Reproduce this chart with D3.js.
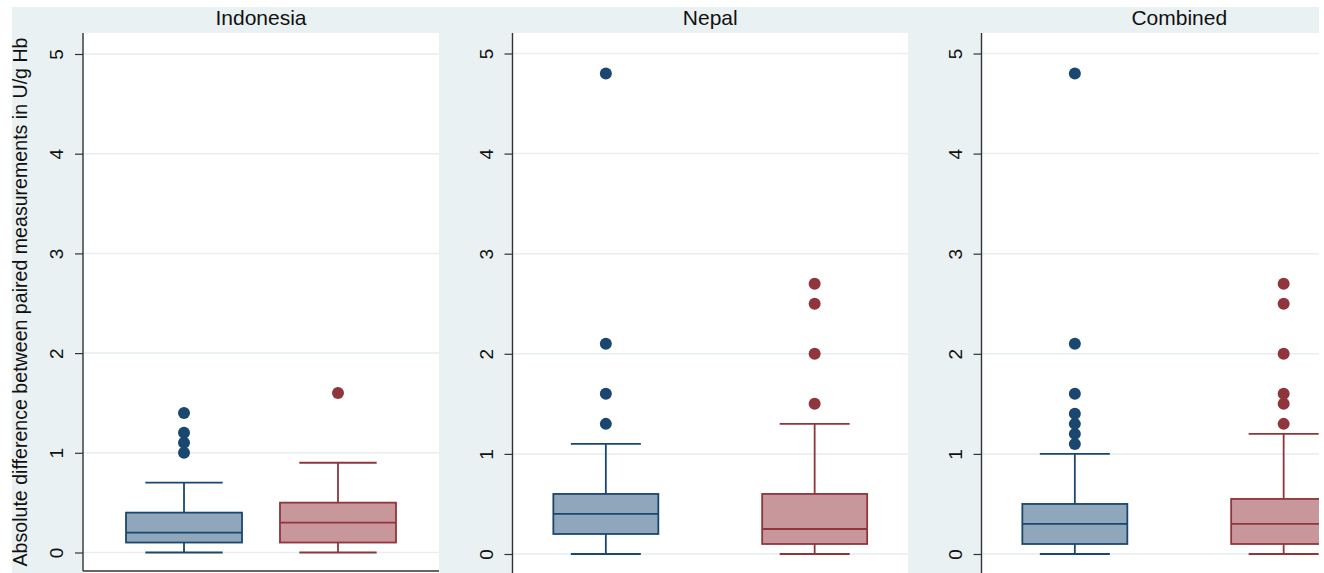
<!DOCTYPE html>
<html>
<head>
<meta charset="utf-8">
<script src="https://cdn.jsdelivr.net/npm/d3@7"></script>
<style>
  body { margin: 0; background: #fff; }
  svg { display: block; font-family: "Liberation Sans", Arial, sans-serif; }
</style>
</head>
<body>
<svg width="1324" height="573"></svg>
<script>
// panel titles and the two groups in each panel (blue, red)
var panelNames = ["Indonesia", "Nepal", "Combined"];
var groupNames = ["A", "B"];
var yTicks = [0, 1, 2, 3, 4, 5];
var yTitle = "Absolute difference between paired measurements in U/g Hb";

// box statistics, per panel: [blue, red]
var whiskerLow = [[0, 0], [0, 0], [0, 0]];
var q1 = [[0.1, 0.1], [0.2, 0.1], [0.1, 0.1]];
var median = [[0.2, 0.3], [0.4, 0.25], [0.3, 0.3]];
var q3 = [[0.4, 0.5], [0.6, 0.6], [0.5, 0.55]];
var whiskerHigh = [[0.7, 0.9], [1.1, 1.3], [1.0, 1.2]];
var outliers = [
    [[1.0, 1.1, 1.2, 1.4], [1.6]],
    [[1.3, 1.6, 2.1, 4.8], [1.5, 2.0, 2.5, 2.7]],
    [[1.1, 1.2, 1.3, 1.4, 1.6, 2.1, 4.8], [1.3, 1.5, 1.6, 2.0, 2.5, 2.7]]
];

var strokeColors = ["#1a476f", "#90353b"];
var fillColors = ["#8fa6bb", "#c8979b"];

// layout of each panel (pixels)
var layout = [
    {left: 83, right: 439, width: 356, bottom: 571, zero: 552.5, five: 54, pad: 0.656, boxW: 116},
    {left: 512.5, right: 908, width: 395.5, bottom: 576, zero: 554, five: 53.5, pad: 0.447, boxW: 105},
    {left: 981.5, right: 1319, width: 395.5, bottom: 576, zero: 554, five: 53.5, pad: 0.447, boxW: 105}
];
var plotTop = 33;

var svg = d3.select("svg");

// outer light background with title strip
svg.append("rect")
    .attr("x", 12).attr("y", 7)
    .attr("width", 1319 - 12).attr("height", 573)
    .attr("fill", "#eaf1f3");

svg.append("text")
    .attr("transform", "translate(27," + (plotTop + 571) / 2 + ") rotate(-90)")
    .attr("text-anchor", "middle")
    .style("font-size", "19.6px")
    .style("fill", "#111")
    .text(yTitle);

panelNames.forEach(function(name, p) {
    var L = layout[p];

    var x = d3.scalePoint()
        .domain(groupNames)
        .range([L.left, L.left + L.width])
        .padding(L.pad);

    var y = d3.scaleLinear()
        .domain([0, 5])
        .range([L.zero, L.five]);

    var g = svg.append("g").attr("class", "panel");

    g.append("clipPath")
        .attr("id", "clip" + p)
      .append("rect")
        .attr("x", L.left).attr("y", plotTop)
        .attr("width", L.right - L.left).attr("height", L.bottom - plotTop);

    g.append("rect")
        .attr("x", L.left).attr("y", plotTop)
        .attr("width", L.right - L.left).attr("height", 600)
        .attr("fill", "#fff");

    // title
    g.append("text")
        .attr("x", L.left + L.width / 2)
        .attr("y", 25)
        .attr("text-anchor", "middle")
        .style("font-size", "21px")
        .style("fill", "#111")
        .text(name);

    // grid
    g.append("g")
        .selectAll("line")
        .data(yTicks)
        .enter().append("line")
            .attr("x1", L.left).attr("x2", L.right)
            .attr("y1", function(d) { return y(d); })
            .attr("y2", function(d) { return y(d); })
            .attr("stroke", "#e6eef1")
            .attr("stroke-width", 1.5);

    // y axis
    var axis = g.append("g")
        .attr("transform", "translate(" + L.left + ",0)")
        .call(d3.axisLeft(y).tickValues(yTicks).tickFormat(d3.format("d")).tickSize(8).tickPadding(0));
    axis.select(".domain").remove();
    axis.selectAll(".tick line").attr("stroke", "#333").attr("stroke-width", 1.2);
    axis.selectAll(".tick text")
        .attr("x", null).attr("dy", null)
        .attr("transform", "translate(-20,0) rotate(-90)")
        .attr("text-anchor", "middle")
        .style("font-size", "19px")
        .style("font-family", "Liberation Sans, Arial, sans-serif")
        .style("fill", "#111");

    g.append("line")
        .attr("x1", L.left).attr("x2", L.left)
        .attr("y1", plotTop).attr("y2", L.bottom)
        .attr("stroke", "#333").attr("stroke-width", 1.4);
    g.append("line")
        .attr("x1", L.left).attr("x2", L.right)
        .attr("y1", L.bottom).attr("y2", L.bottom)
        .attr("stroke", "#333").attr("stroke-width", 1.4);

    var marks = g.append("g").attr("clip-path", "url(#clip" + p + ")");

    groupNames.forEach(function(grp, i) {
        var cx = x(grp);
        var w = L.boxW;
        var cap = w / 3;
        var col = strokeColors[i];
        var b = marks.append("g");

        // whiskers
        b.append("line")
            .attr("x1", cx).attr("x2", cx)
            .attr("y1", y(whiskerLow[p][i])).attr("y2", y(q1[p][i]))
            .attr("stroke", col).attr("stroke-width", 1.8);
        b.append("line")
            .attr("x1", cx).attr("x2", cx)
            .attr("y1", y(q3[p][i])).attr("y2", y(whiskerHigh[p][i]))
            .attr("stroke", col).attr("stroke-width", 1.8);
        [whiskerLow[p][i], whiskerHigh[p][i]].forEach(function(v) {
            b.append("line")
                .attr("x1", cx - cap).attr("x2", cx + cap)
                .attr("y1", y(v)).attr("y2", y(v))
                .attr("stroke", col).attr("stroke-width", 1.8);
        });

        // box
        b.append("rect")
            .attr("x", cx - w / 2)
            .attr("y", y(q3[p][i]))
            .attr("width", w)
            .attr("height", y(q1[p][i]) - y(q3[p][i]))
            .attr("fill", fillColors[i])
            .attr("stroke", col).attr("stroke-width", 1.8);
        b.append("line")
            .attr("x1", cx - w / 2).attr("x2", cx + w / 2)
            .attr("y1", y(median[p][i])).attr("y2", y(median[p][i]))
            .attr("stroke", col).attr("stroke-width", 1.8);

        // outside values
        b.selectAll("circle")
            .data(outliers[p][i])
            .enter().append("circle")
                .attr("cx", cx)
                .attr("cy", function(d) { return y(d); })
                .attr("r", 6)
                .attr("fill", col);
    });
});
</script>
</body>
</html>
